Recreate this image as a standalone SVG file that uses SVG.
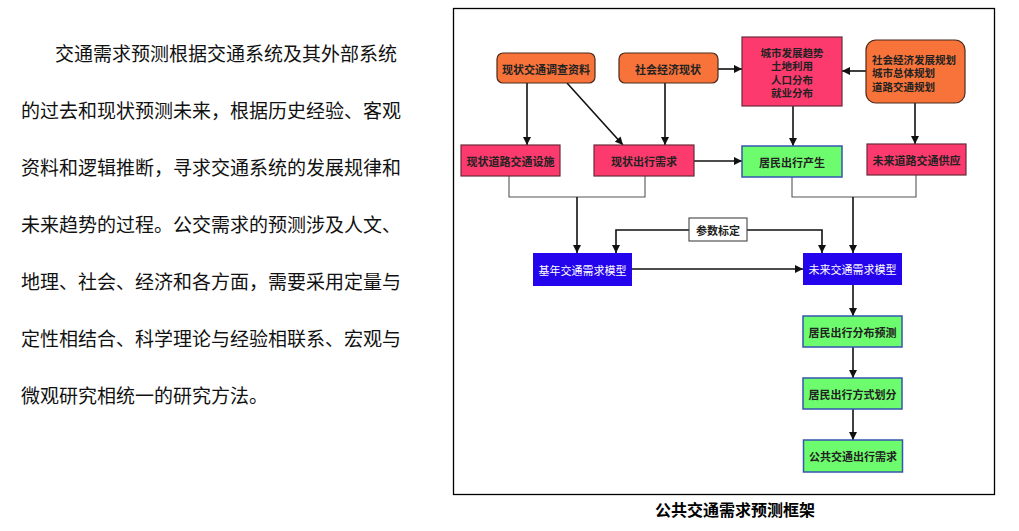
<svg xmlns="http://www.w3.org/2000/svg" width="1019" height="531" viewBox="0 0 1019 531">
<defs>
<marker id="ah" markerUnits="userSpaceOnUse" markerWidth="8" markerHeight="8" refX="8" refY="4" orient="auto">
<path d="M0,0 L8,4 L0,8 z" fill="#111"/>
</marker>
<style>
.para{font-family:"Noto Sans CJK SC","Noto Sans CJK JP",sans-serif;font-size:19px;fill:#111}
.t{font-family:"Noto Sans CJK SC","Noto Sans CJK JP",sans-serif;font-size:11px;font-weight:bold;fill:#222;text-anchor:middle;dominant-baseline:central}
.t2{font-family:"Noto Sans CJK SC","Noto Sans CJK JP",sans-serif;font-size:10.5px;font-weight:bold;fill:#222;dominant-baseline:central}
.tw{font-family:"Noto Sans CJK SC","Noto Sans CJK JP",sans-serif;font-size:11px;fill:#fff;text-anchor:middle;dominant-baseline:central}
.orange{fill:#f8733a;stroke:#4a2a1a;stroke-width:1.2}
.pink{fill:#fd3a6e;stroke:#6a2a3a;stroke-width:1.2}
.green{fill:#6dfc6d;stroke:#3556b0;stroke-width:1.5}
.blue{fill:#2404ec;stroke:none}
.c{fill:none;stroke:#111;stroke-width:1.6}
.a{marker-end:url(#ah)}
.br{fill:none;stroke:#555;stroke-width:1.1}
</style>
</defs>
<rect width="1019" height="531" fill="#fff"/>
<g id="paragraph">
<text class="para" x="55" y="61">交通需求预测根据交通系统及其外部系统</text>
<text class="para" x="21" y="118">的过去和现状预测未来，根据历史经验、客观</text>
<text class="para" x="21" y="175">资料和逻辑推断，寻求交通系统的发展规律和</text>
<text class="para" x="21" y="232">未来趋势的过程。公交需求的预测涉及人文、</text>
<text class="para" x="21" y="289">地理、社会、经济和各方面，需要采用定量与</text>
<text class="para" x="21" y="346">定性相结合、科学理论与经验相联系、宏观与</text>
<text class="para" x="21" y="403">微观研究相统一的研究方法。</text>
</g>
<rect x="453.5" y="8.5" width="541" height="486" fill="none" stroke="#000" stroke-width="1.3"/>
<g id="connectors">
<line class="c a" x1="527" y1="83" x2="527" y2="145"/>
<line class="c a" x1="567" y1="83" x2="623" y2="145"/>
<line class="c a" x1="665" y1="83" x2="665" y2="145"/>
<line class="c a" x1="718" y1="69" x2="742" y2="69"/>
<line class="c a" x1="866" y1="71" x2="842" y2="71"/>
<line class="c a" x1="793" y1="106" x2="793" y2="146"/>
<line class="c a" x1="915" y1="103" x2="915" y2="144"/>
<line class="c a" x1="694" y1="161" x2="742" y2="161"/>
<polyline class="br" points="509,176 509,197 645,197 645,176"/>
<line class="c a" x1="577" y1="197" x2="577" y2="253"/>
<polyline class="br" points="792,177 792,197 916,197 916,175"/>
<line class="c a" x1="853" y1="197" x2="853" y2="253"/>
<polyline class="c a" points="689,230 616,230 616,253"/>
<polyline class="c a" points="747,230 822,230 822,253"/>
<line class="c a" x1="632" y1="269" x2="803" y2="269"/>
<line class="c a" x1="853" y1="285" x2="853" y2="316"/>
<line class="c a" x1="853" y1="347" x2="853" y2="378"/>
<line class="c a" x1="853" y1="409" x2="853" y2="440"/>
</g>
<g id="n-survey">
<rect class="orange" x="497" y="53" width="98" height="30" rx="6"/>
<text class="t" x="546" y="68.5">现状交通调查资料</text>
</g>
<g id="n-socio">
<rect class="orange" x="619" y="53" width="99" height="30" rx="6"/>
<text class="t" x="668" y="68.5">社会经济现状</text>
</g>
<g id="n-urban">
<rect class="pink" x="742" y="37" width="100" height="69"/>
<text class="t2" x="792" y="52" text-anchor="middle">城市发展趋势</text>
<text class="t2" x="792" y="65.5" text-anchor="middle">土地利用</text>
<text class="t2" x="792" y="79" text-anchor="middle">人口分布</text>
<text class="t2" x="792" y="92.5" text-anchor="middle">就业分布</text>
</g>
<g id="n-plan">
<rect class="orange" x="866" y="40" width="99" height="63" rx="10"/>
<text class="t2" x="872" y="59">社会经济发展规划</text>
<text class="t2" x="872" y="72.5">城市总体规划</text>
<text class="t2" x="872" y="86">道路交通规划</text>
</g>
<g id="n-road">
<rect class="pink" x="461" y="145" width="99" height="31"/>
<text class="t" x="510.5" y="160.5">现状道路交通设施</text>
</g>
<g id="n-demand">
<rect class="pink" x="594" y="145" width="100" height="31"/>
<text class="t" x="644" y="160.5">现状出行需求</text>
</g>
<g id="n-gen">
<rect class="green" x="742" y="146" width="100" height="31"/>
<text class="t" x="792" y="161.5">居民出行产生</text>
</g>
<g id="n-supply">
<rect class="pink" x="867" y="144" width="99" height="31"/>
<text class="t" x="916.5" y="159.5">未来道路交通供应</text>
</g>
<g id="n-calib">
<rect x="689" y="218" width="58" height="23" fill="#fff" stroke="#444" stroke-width="1.1"/>
<text class="t" x="718" y="229.5">参数标定</text>
</g>
<g id="n-base">
<rect class="blue" x="533" y="253" width="99" height="33"/>
<text class="tw" x="582.5" y="269.5">基年交通需求模型</text>
</g>
<g id="n-future">
<rect class="blue" x="803" y="253" width="99" height="32"/>
<text class="tw" x="852.5" y="269">未来交通需求模型</text>
</g>
<g id="n-dist">
<rect class="green" x="803" y="316" width="99" height="31"/>
<text class="t" x="852.5" y="331.5">居民出行分布预测</text>
</g>
<g id="n-mode">
<rect class="green" x="803" y="378" width="99" height="31"/>
<text class="t" x="852.5" y="393.5">居民出行方式划分</text>
</g>
<g id="n-pt">
<rect class="green" x="803.5" y="440" width="99" height="32"/>
<text class="t" x="853" y="456">公共交通出行需求</text>
</g>
<text x="735" y="516" style="font-family:'Noto Sans CJK SC','Noto Sans CJK JP',sans-serif;font-size:16px;font-weight:bold;fill:#000;text-anchor:middle">公共交通需求预测框架</text>
</svg>
